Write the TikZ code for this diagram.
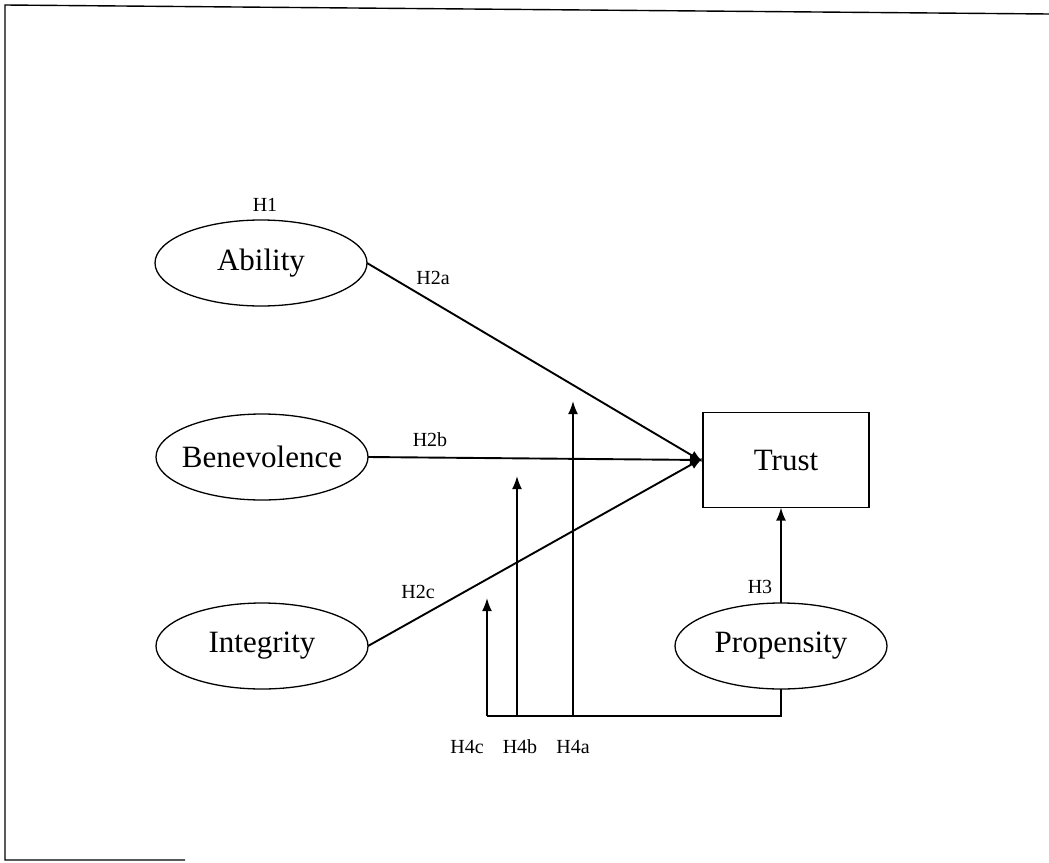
\documentclass[tikz,border=0pt]{standalone}
\usepackage{fontspec}
\setmainfont{Liberation Serif}
\usetikzlibrary{shapes.geometric,arrows.meta}

\newcommand{\ctext}[1]{\makebox[0pt]{#1}}

\begin{document}
\begin{tikzpicture}[
  x=1pt,
  y=-1pt,
  every node/.style={inner sep=0pt, outer sep=0pt},
  construct/.style={draw, ellipse, line width=1.3pt, minimum width=212pt, minimum height=86pt, font=\fontsize{31}{33}\selectfont},
  outcome/.style={draw, rectangle, line width=1.3pt, minimum width=166pt, minimum height=95pt, font=\fontsize{31}{33}\selectfont},
  hyp/.style={font=\fontsize{20}{21}\selectfont},
  path/.style={draw, line width=1.9pt, -{Latex[length=13pt,width=10pt]}},
  plain/.style={draw, line width=1.5pt}
]

  \path[use as bounding box] (0,0) rectangle (1049,862);

  % Scanned frame
  \draw[line width=1.4pt] (1049,14) -- (5,5) -- (5,860) -- (185,860);

  % Constructs
  \node[construct] (ability) at (261,263) {\ctext{Ability}};
  \node[construct] (benevolence) at (262,457) {\ctext{Benevolence}};
  \node[construct] (integrity) at (262,646) {\ctext{Integrity}};
  \node[construct] (propensity) at (781,646) {\ctext{Propensity}};
  \node[outcome] (trust) at (786,460) {Trust};

  % Direct paths
  \draw[path] (ability.east) -- ([yshift=-2pt]trust.west);
  \draw[path] (benevolence.east) -- (trust.west);
  \draw[path] (integrity.east) -- ([yshift=2pt]trust.west);
  \draw[path] (propensity.north) -- (propensity.north |- trust.south);

  % Moderating paths
  \coordinate (mbase) at (781,716);
  \coordinate (h4c) at (487,716);
  \coordinate (h4b) at (517,716);
  \coordinate (h4a) at (573,716);
  \coordinate (h4ctip) at (487,598);
  \coordinate (h4btip) at (517,476);
  \coordinate (h4atip) at (573,401);
  \draw[plain] (propensity.south) -- (mbase) -- (h4c);
  \draw[path] (h4c) -- (h4ctip);
  \draw[path] (h4b) -- (h4btip);
  \draw[path] (h4a) -- (h4atip);

  % Hypothesis labels
  \node[hyp] (l1) at (265,205) {H1};
  \node[hyp] (l2a) at (433,278) {H2a};
  \node[hyp] (l2b) at (430,440) {H2b};
  \node[hyp] (l2c) at (418,592) {H2c};
  \node[hyp] (l3) at (760,587) {H3};
  \node[hyp] (l4c) at (467,747) {H4c};
  \node[hyp] (l4b) at (520,747) {H4b};
  \node[hyp] (l4a) at (573,747) {H4a};

\end{tikzpicture}
\end{document}
